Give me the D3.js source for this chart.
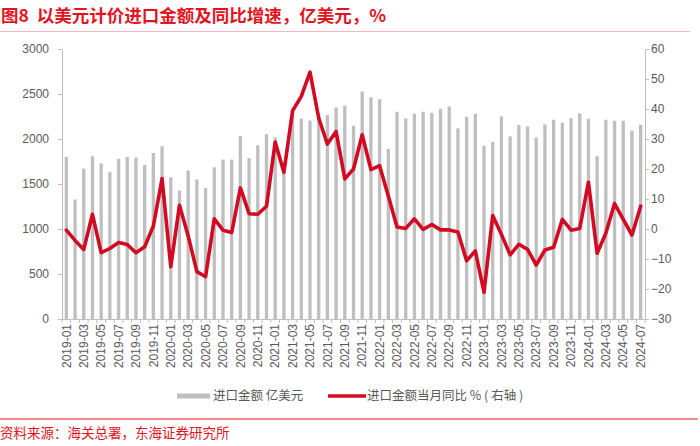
<!DOCTYPE html>
<html><head><meta charset="utf-8">
<script src="https://cdn.jsdelivr.net/npm/d3@7/dist/d3.min.js"></script>
<style>
html,body{margin:0;padding:0;background:#fff;}
svg{display:block;}
</style></head>
<body><svg id="c" width="700" height="446"></svg>
<script>
const categories = [
"2019-01","2019-02","2019-03","2019-04","2019-05","2019-06","2019-07","2019-08","2019-09","2019-10","2019-11","2019-12",
"2020-01","2020-02","2020-03","2020-04","2020-05","2020-06","2020-07","2020-08","2020-09","2020-10","2020-11","2020-12",
"2021-01","2021-02","2021-03","2021-04","2021-05","2021-06","2021-07","2021-08","2021-09","2021-10","2021-11","2021-12",
"2022-01","2022-02","2022-03","2022-04","2022-05","2022-06","2022-07","2022-08","2022-09","2022-10","2022-11","2022-12",
"2023-01","2023-02","2023-03","2023-04","2023-05","2023-06","2023-07","2023-08","2023-09","2023-10","2023-11","2023-12",
"2024-01","2024-02","2024-03","2024-04","2024-05","2024-06","2024-07"];

const importValues = [
1801,1328,1671,1808,1730,1631,1779,1801,1793,1712,1845,1919,
1576,1428,1650,1550,1454,1686,1771,1771,2033,1790,1930,2055,
2018,1650,2300,2225,2205,2290,2266,2350,2372,2148,2528,2465,
2443,1890,2303,2228,2280,2303,2291,2336,2361,2118,2247,2280,
1926,1967,2251,2029,2155,2140,2015,2162,2214,2181,2232,2284,
2225,1808,2214,2203,2203,2092,2159];

const yoyValues = [
-0.4,-3.8,-6.8,4.9,-7.9,-6.5,-4.5,-5.2,-7.9,-5.9,1.0,16.8,
-12.6,7.9,-2.3,-14.2,-15.9,3.4,-0.4,-1.2,13.7,5.1,4.9,7.6,
29.0,18.9,39.4,44.2,52.3,37.0,28.3,32.5,16.7,20.0,31.4,19.8,
21.1,11.0,0.7,0.2,3.4,-0.1,1.5,-0.3,-0.3,-1.0,-10.6,-7.3,
-21.1,4.5,-1.8,-8.6,-5.1,-6.8,-12.0,-7.0,-6.1,3.2,-0.4,0.2,
15.6,-8.1,-1.4,8.5,3.2,-2.0,7.6];

const leftTicks = [0,500,1000,1500,2000,2500,3000];
const rightTicks = [-30,-20,-10,0,10,20,30,40,50,60];
const xTickLabels = categories.filter((d,i)=>i%2===0);

const titleText = "图8  以美元计价进口金额及同比增速，亿美元，%";
const sourceText = "资料来源：海关总署，东海证券研究所";
const legendBar = "进口金额 亿美元";
const legendLine = "进口金额当月同比 % ( 右轴 )";

const RED = "#e3141f", LINE = "#d20a22", BAR = "#bfbfbf", AXIS = "#bfbfbf", TXT = "#595959";
const NUMFONT = "'Liberation Sans', Arial, sans-serif";
const CJK = "'Noto Sans CJK SC', 'Noto Sans', sans-serif";

const svg = d3.select("#c");
const L = 62, R = 645, T = 49, B = 319;

const x = d3.scaleBand().domain(categories).range([L, R]).padding(0);
const yL = d3.scaleLinear().domain([0, 3000]).range([B, T]);
const yR = d3.scaleLinear().domain([-30, 60]).range([B, T]);
const step = x.step();

// title
svg.append("text").attr("x", 1).attr("y", 22).attr("fill", RED)
  .attr("font-family", CJK).attr("font-size", 17.5).attr("font-weight", 700)
  .style("white-space", "pre").text(titleText);
svg.append("line").attr("x1", 0).attr("x2", 690).attr("y1", 31.5).attr("y2", 31.5)
  .attr("stroke", "#f2b8bb").attr("stroke-width", 1);

// bars
svg.append("g").selectAll("rect").data(categories).join("rect")
  .attr("x", (d) => x(d) + step * 0.31)
  .attr("width", step * 0.38)
  .attr("y", (d,i) => yL(importValues[i]))
  .attr("height", (d,i) => yL(0) - yL(importValues[i]))
  .attr("fill", BAR);

// left axis
const gL = svg.append("g").attr("transform", `translate(${L},0)`)
  .call(d3.axisLeft(yL).tickValues(leftTicks).tickFormat(d3.format("d")).tickSize(4).tickPadding(9).tickSizeOuter(0));
gL.selectAll("path,line").attr("stroke", AXIS);
gL.selectAll("text").attr("fill", TXT).attr("font-family", NUMFONT).attr("font-size", 12);

// right axis
const gR = svg.append("g").attr("transform", `translate(${R},0)`)
  .call(d3.axisRight(yR).tickValues(rightTicks).tickFormat(d3.format("d")).tickSize(4).tickPadding(2).tickSizeOuter(0));
gR.selectAll("path,line").attr("stroke", AXIS);
gR.selectAll("text").attr("fill", TXT).attr("font-family", NUMFONT).attr("font-size", 12);

// bottom axis
const gB = svg.append("g").attr("transform", `translate(0,${B})`)
  .call(d3.axisBottom(x).tickValues(xTickLabels).tickSize(0).tickPadding(0).tickSizeOuter(0));
gB.select(".domain").attr("stroke", AXIS);
gB.selectAll("text").attr("fill", TXT).attr("font-family", NUMFONT).attr("font-size", 12)
  .attr("transform", "rotate(-90)").attr("text-anchor", "end")
  .attr("x", -5).attr("y", 0).attr("dy", "0.35em");
// boundary tick marks
const bounds = categories.map(c => x(c)).concat([x(categories[categories.length-1]) + step]);
svg.append("g").selectAll("line").data(bounds).join("line")
  .attr("x1", d => d).attr("x2", d => d).attr("y1", B).attr("y2", B + 4)
  .attr("stroke", AXIS).attr("stroke-width", 1);

// line
const line = d3.line().x((d,i) => x(categories[i]) + step/2).y(d => yR(d));
svg.append("path").datum(yoyValues).attr("d", line)
  .attr("fill", "none").attr("stroke", LINE).attr("stroke-width", 3.6)
  .attr("stroke-linejoin", "round").attr("stroke-linecap", "round");

// legend
const ly = 396;
svg.append("rect").attr("x", 177).attr("y", ly - 2.5).attr("width", 33).attr("height", 5).attr("fill", BAR);
svg.append("text").attr("x", 213).attr("y", ly).attr("dy", "0.35em").attr("fill", TXT)
  .attr("font-family", CJK).attr("font-size", 12.5).style("white-space", "pre").text(legendBar);
svg.append("line").attr("x1", 328).attr("x2", 366).attr("y1", ly).attr("y2", ly)
  .attr("stroke", LINE).attr("stroke-width", 3.6);
svg.append("text").attr("x", 367).attr("y", ly).attr("dy", "0.35em").attr("fill", TXT)
  .attr("font-family", CJK).attr("font-size", 12.5).style("white-space", "pre").text(legendLine);

// source
svg.append("line").attr("x1", 0).attr("x2", 698).attr("y1", 419).attr("y2", 419)
  .attr("stroke", RED).attr("stroke-width", 1.2);
svg.append("text").attr("x", 0).attr("y", 438).attr("fill", RED)
  .attr("font-family", CJK).attr("font-size", 13.5).text(sourceText);
</script></body></html>
